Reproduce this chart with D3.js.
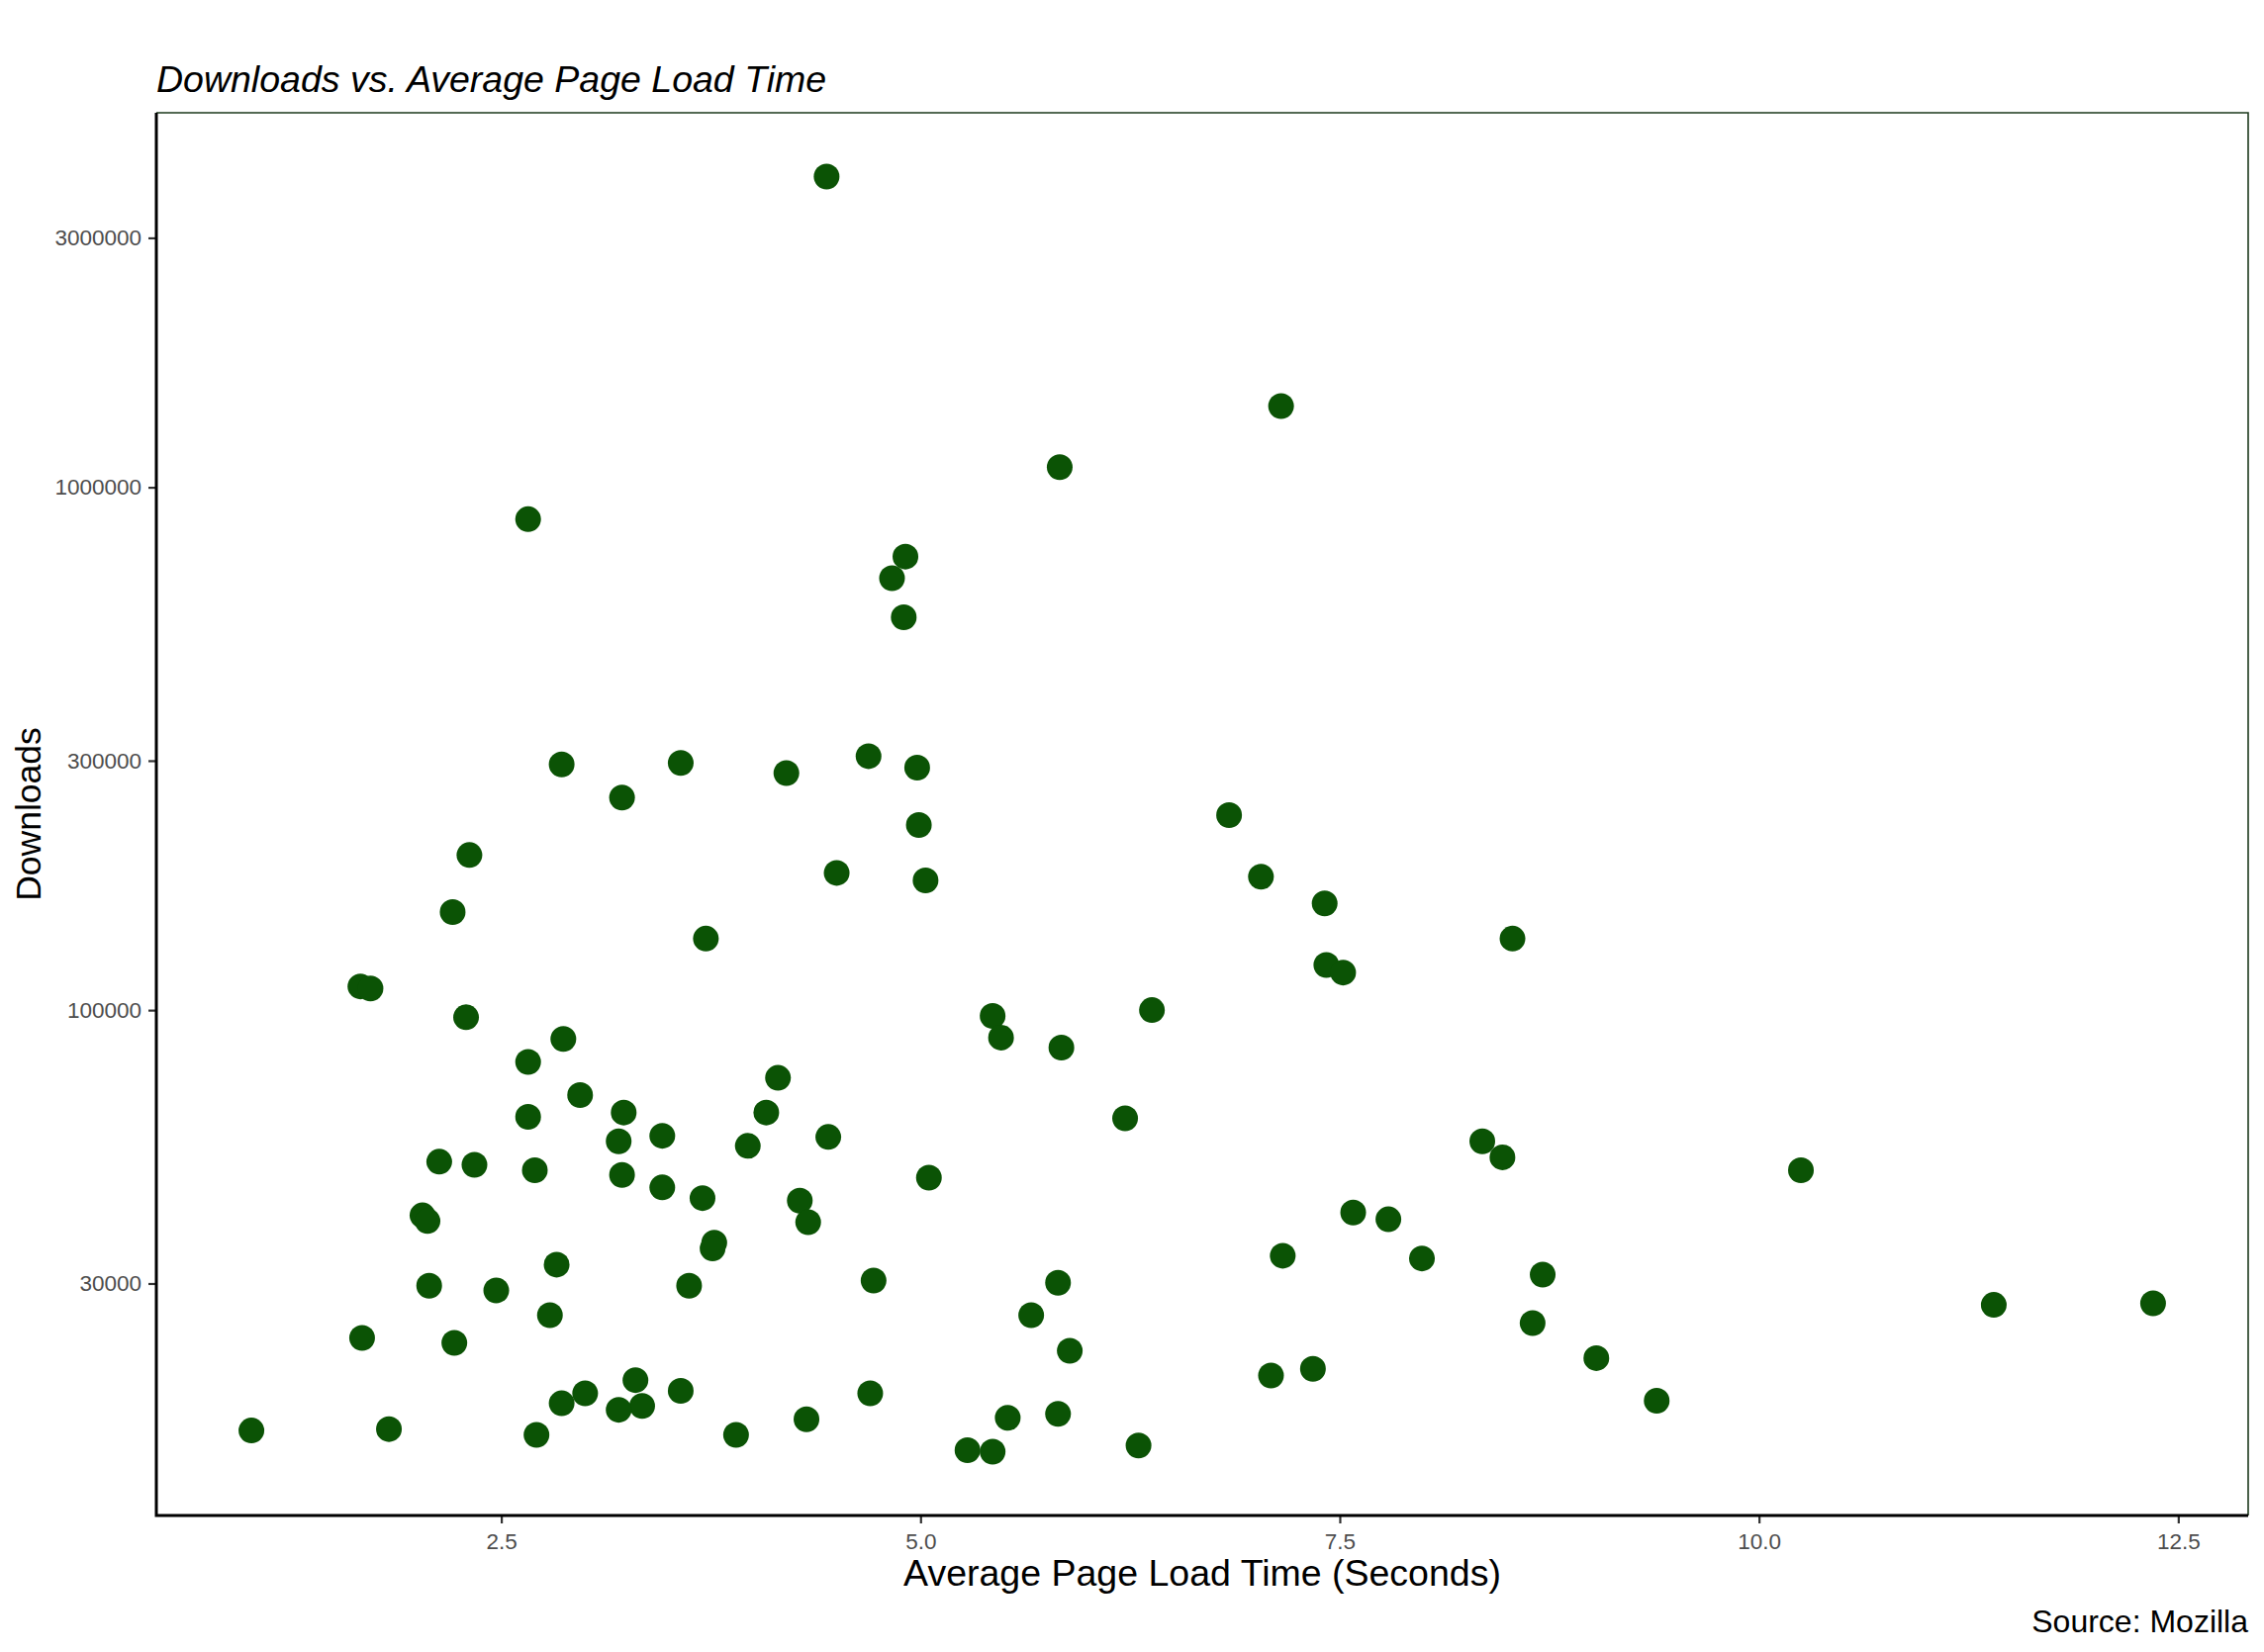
<html>
<head>
<script src="https://d3js.org/d3.v7.min.js"></script>
<style>
  body { margin: 0; background: #fff; }
  text { font-family: "Liberation Sans", Arial, sans-serif; }
</style>
</head>
<body>
<svg id="chart" width="2288" height="1670"></svg>
<script>
// load time in seconds, downloads
const loadTime = [4.44, 7.15, 5.83, 2.66, 4.91, 4.83, 4.90, 4.69, 2.86, 3.57,
  4.98, 4.20, 3.22, 6.84, 4.99, 2.31, 4.50, 5.03, 7.03, 7.41,
  2.21, 3.72, 8.53, 7.42, 7.52, 1.66, 1.72, 6.38, 5.43, 2.29,
  5.48, 2.87, 5.84, 2.66, 4.15, 2.97, 3.23, 4.08, 2.66, 6.22,
  3.46, 4.45, 3.20, 8.35, 3.97, 8.47, 2.13, 2.34, 2.70, 10.25,
  3.22, 5.05, 3.46, 3.70, 4.28, 7.58, 2.03, 2.06, 7.79, 4.33,
  3.77, 3.76, 7.16, 7.99, 2.83, 8.71, 4.72, 2.07, 5.82, 3.62,
  2.47, 11.40, 12.35, 2.79, 5.66, 8.65, 1.67, 2.22, 5.89, 9.03,
  7.34, 7.09, 3.30, 3.57, 4.70, 3.00, 9.39, 2.86, 3.34, 3.20,
  5.82, 5.52, 4.32, 1.01, 1.83, 2.71, 3.90, 6.30, 5.28, 5.43];

const downloads = [3930000, 1430000, 1093000, 869000, 737000, 670000, 564000, 306000, 295000, 297000,
  291000, 284000, 255000, 236000, 226000, 198000, 183000, 177000, 180000, 160000,
  154000, 137000, 137000, 122000, 118000, 111000, 110000, 100000, 97500, 96900,
  88600, 88100, 84800, 79600, 74200, 68800, 63700, 63700, 62500, 62100,
  57500, 57200, 56100, 56100, 55000, 52300, 51300, 50600, 49400, 49400,
  48400, 47800, 45800, 43700, 43200, 41000, 40500, 39500, 39800, 39300,
  35900, 35000, 33900, 33500, 32600, 31200, 30400, 29700, 30100, 29700,
  29100, 27300, 27500, 26100, 26100, 25200, 23600, 23100, 22300, 21600,
  20600, 20000, 19600, 18700, 18500, 18500, 17900, 17700, 17500, 17200,
  16900, 16600, 16500, 15700, 15800, 15400, 15400, 14700, 14400, 14300];

const xTicks = [2.5, 5.0, 7.5, 10.0, 12.5];
const yTicks = [30000, 100000, 300000, 1000000, 3000000];

const svg = d3.select("#chart");
const margin = {top: 114, right: 16, bottom: 138, left: 158};
const width = +svg.attr("width") - margin.left - margin.right;
const height = +svg.attr("height") - margin.top - margin.bottom;

const points = loadTime.map((d, i) => ({x: d, y: downloads[i]}));

// ggplot style 5% padding on each side
const xExt = d3.extent(loadTime);
const xPad = (xExt[1] - xExt[0]) * 0.05;
const x = d3.scaleLinear().domain([xExt[0] - xPad, xExt[1] + xPad]).range([0, width]);

const lExt = d3.extent(downloads).map(Math.log10);
const lPad = (lExt[1] - lExt[0]) * 0.05;
const y = d3.scaleLog()
  .domain([Math.pow(10, lExt[0] - lPad), Math.pow(10, lExt[1] + lPad)])
  .range([height, 0]);

const g = svg.append("g").attr("transform", "translate(" + margin.left + "," + margin.top + ")");

// thin frame on top and right
g.append("path")
  .attr("d", "M0,0H" + width + "V" + height)
  .attr("fill", "none")
  .attr("stroke", "#1d3a1d")
  .attr("stroke-width", 1.6);

g.selectAll("circle.pt").data(points)
  .join("circle")
  .attr("class", "pt")
  .attr("cx", d => x(d.x))
  .attr("cy", d => y(d.y))
  .attr("r", 13)
  .attr("fill", "#0b5305");

const xAxis = g.append("g")
  .attr("transform", "translate(0," + height + ")")
  .call(d3.axisBottom(x).tickValues(xTicks).tickFormat(d3.format(".1f")).tickSizeOuter(0).tickSize(8).tickPadding(10));

const yAxis = g.append("g")
  .call(d3.axisLeft(y).tickValues(yTicks).tickFormat(d => d).tickSizeOuter(0).tickSize(8).tickPadding(7));

[xAxis, yAxis].forEach(a => {
  a.select(".domain").remove();
  a.selectAll(".tick line").attr("stroke", "#333").attr("stroke-width", 2.2);
  a.selectAll(".tick text")
    .attr("fill", "#4d4d4d")
    .style("font-size", "22.5px")
    .style("font-family", "'Liberation Sans', Arial, sans-serif");
});

// black axis lines on left and bottom
g.append("path")
  .attr("d", "M0,0V" + height + "H" + width)
  .attr("fill", "none")
  .attr("stroke", "#000")
  .attr("stroke-width", 3);

// title, axis titles, caption
svg.append("text")
  .attr("x", margin.left).attr("y", 93)
  .style("font-size", "37.5px").style("font-style", "italic")
  .text("Downloads vs. Average Page Load Time");

svg.append("text")
  .attr("x", margin.left + width / 2).attr("y", 1603)
  .attr("text-anchor", "middle")
  .style("font-size", "37.5px")
  .text("Average Page Load Time (Seconds)");

svg.append("text")
  .attr("transform", "translate(41," + (margin.top + height / 2) + ") rotate(-90)")
  .attr("text-anchor", "middle")
  .style("font-size", "35.5px")
  .text("Downloads");

svg.append("text")
  .attr("x", margin.left + width).attr("y", 1650)
  .attr("text-anchor", "end")
  .style("font-size", "32px")
  .text("Source: Mozilla");
</script>
</body>
</html>
